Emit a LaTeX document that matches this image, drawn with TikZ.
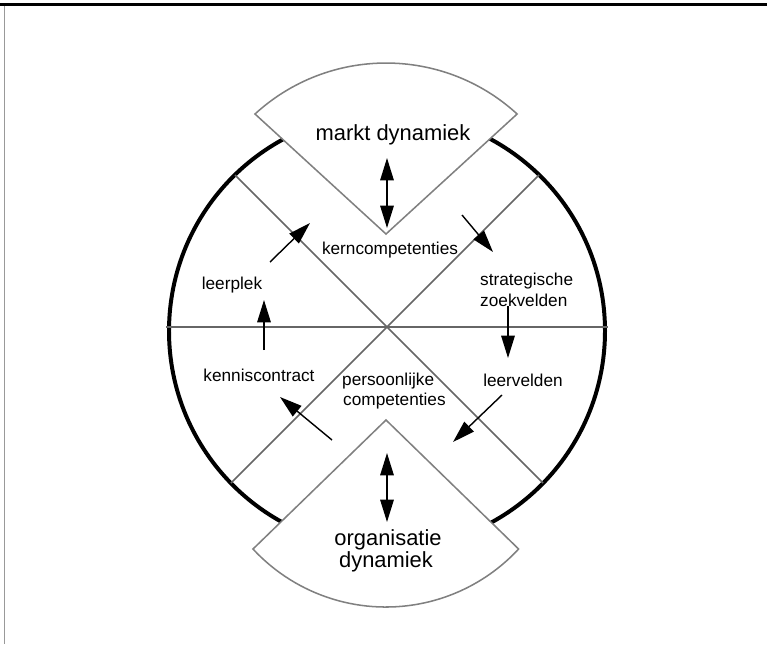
\documentclass[tikz,border=0pt]{standalone}
\usepackage{fontspec}
\setmainfont{Liberation Sans}
\usetikzlibrary{arrows.meta}
\tikzset{
  thinline/.style={draw=black!60, line width=1.3pt},
  fanshape/.style={draw=black!50, line width=1.3pt, fill=white},
  ringline/.style={draw=black, line width=3.4pt},
  arr/.style={draw=black, line width=1.2pt, -{Triangle[length=19pt,width=11.5pt]}},
  darr/.style={draw=black, line width=1.2pt, {Triangle[length=19pt,width=11.5pt]}-{Triangle[length=19pt,width=11.5pt]}},
  smalllbl/.style={inner sep=0pt, font=\fontsize{14.7pt}{16pt}\selectfont},
  biglbl/.style={inner sep=0pt, font=\fontsize{18.7pt}{21pt}\selectfont},
}
\begin{document}
\begin{tikzpicture}[x=0.03cm, y=-0.03cm]
\useasboundingbox (0,0) rectangle (767,644);
\fill[white] (0,0) rectangle (767,644);
% frame
\draw[black, line width=2.6pt] (0,4.5) -- (767,4.5);
\draw[black!40, line width=1.6pt] (4.5,6) -- (4.5,644);
% main geometry
\coordinate (C) at (387,331);
\coordinate (O) at (387,327);
\draw[ringline] (C) circle [radius=218];
\coordinate (hl) at (166,327);
\coordinate (hr) at (608,327);
\draw[thinline] (hl) -- (hr);
\coordinate (xul) at (235,175);
\coordinate (xur) at (539,175);
\coordinate (xll) at (231,483);
\coordinate (xlr) at (543,483);
\draw[thinline] (xul) -- (xlr);
\draw[thinline] (xur) -- (xll);
% fans
\coordinate (ta) at (386,234);
\coordinate (tl) at (255,114);
\draw[fanshape] (ta) -- (tl) arc[start angle=227.5, end angle=312.5, radius=194] -- cycle;
\coordinate (ba) at (386,420);
\coordinate (bl) at (253,549);
\draw[fanshape] (ba) -- (bl) arc[start angle=137.2, end angle=42.8, radius=181] -- cycle;
% labels
\node[biglbl, anchor=base] (markt) at (393,140) {markt dynamiek};
\node[smalllbl, anchor=base] (kern) at (390,254) {kerncompetenties};
\node[smalllbl, anchor=base] (leerplek) at (232,289) {leerplek};
\node[smalllbl, anchor=base west] (strat) at (480,285) {strategische};
\node[smalllbl, anchor=base west] (zoek) at (480,306) {zoekvelden};
\node[smalllbl, anchor=base] (kennis) at (259,381) {kenniscontract};
\node[smalllbl, anchor=base west] (pers) at (342,385) {persoonlijke};
\node[smalllbl, anchor=base west] (comp) at (343,405) {competenties};
\node[smalllbl, anchor=base] (leerv) at (523,386) {leervelden};
\node[biglbl, anchor=base] (org) at (388,545) {organisatie};
\node[biglbl, anchor=base] (dyn) at (386,567) {dynamiek};
% arrows
\coordinate (t1) at (387,158);
\coordinate (t2) at (387,228);
\draw[darr] (t1) -- (t2);
\coordinate (b1) at (387,453);
\coordinate (b2) at (387,522);
\draw[darr] (b1) -- (b2);
\coordinate (l1) at (264,350);
\coordinate (l2) at (264,300);
\draw[arr] (l1) -- (l2);
\coordinate (r1) at (508,306);
\coordinate (r2) at (508,358);
\draw[arr] (r1) -- (r2);
\coordinate (tl1) at (270,262);
\coordinate (tl2) at (310,223);
\draw[arr] (tl1) -- (tl2);
\coordinate (tr1) at (462,215);
\coordinate (tr2) at (493,252);
\draw[arr] (tr1) -- (tr2);
\coordinate (bl1) at (332,440);
\coordinate (bl2) at (280,397);
\draw[arr] (bl1) -- (bl2);
\coordinate (br1) at (502,395);
\coordinate (br2) at (453,442);
\draw[arr] (br1) -- (br2);
\end{tikzpicture}
\end{document}
